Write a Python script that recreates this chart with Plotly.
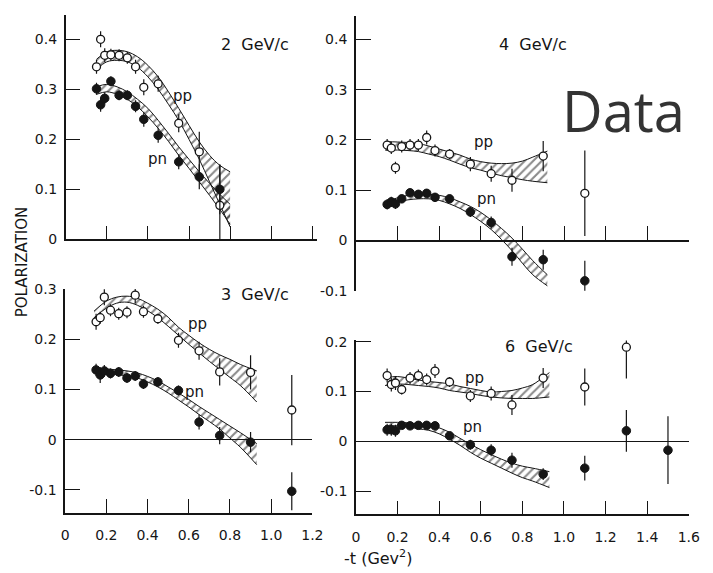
import plotly.graph_objects as go

W, H = 713, 573

# ---------------- data: -t values (GeV^2) ----------------
t_main = [0.15, 0.17, 0.19, 0.22, 0.26, 0.30, 0.34, 0.38, 0.45, 0.55, 0.65, 0.75]

# 2 GeV/c
p2_t = t_main
p2_pp = [0.345, 0.400, 0.368, 0.369, 0.368, 0.363, 0.345, 0.304, 0.311, 0.232, 0.175, 0.068]
p2_pp_err = [0.014, 0.016, 0.014, 0.012, 0.012, 0.012, 0.014, 0.016, 0.016, 0.018, 0.040, 0.080]
p2_pn = [0.301, 0.269, 0.282, 0.316, 0.288, 0.288, 0.266, 0.240, 0.208, 0.155, 0.125, 0.100]
p2_pn_err = [0.012, 0.014, 0.012, 0.010, 0.010, 0.010, 0.012, 0.015, 0.015, 0.015, 0.025, 0.050]

# 4 GeV/c
p4_t = t_main + [0.90, 1.10]
p4_pp = [0.190, 0.184, 0.145, 0.187, 0.190, 0.190, 0.205, 0.179, 0.172, 0.152, 0.133, 0.120, 0.168, 0.094]
p4_pp_err = [0.012, 0.012, 0.012, 0.012, 0.012, 0.012, 0.014, 0.012, 0.010, 0.014, 0.016, 0.023, 0.030, 0.085]
p4_pn = [0.072, 0.077, 0.073, 0.083, 0.095, 0.092, 0.094, 0.086, 0.083, 0.057, 0.036, -0.032, -0.038, -0.080]
p4_pn_err = [0.010, 0.010, 0.010, 0.008, 0.008, 0.008, 0.008, 0.008, 0.008, 0.010, 0.012, 0.018, 0.020, 0.040]

# 3 GeV/c
p3_t = t_main + [0.90, 1.10]
p3_pp = [0.235, 0.243, 0.284, 0.258, 0.251, 0.254, 0.288, 0.255, 0.241, 0.198, 0.177, 0.135, 0.134, 0.059]
p3_pp_err = [0.016, 0.012, 0.016, 0.012, 0.012, 0.012, 0.016, 0.012, 0.010, 0.015, 0.018, 0.027, 0.034, 0.070]
p3_pn = [0.139, 0.129, 0.137, 0.132, 0.135, 0.123, 0.127, 0.111, 0.115, 0.098, 0.035, 0.008, -0.005, -0.103]
p3_pn_err = [0.012, 0.016, 0.012, 0.010, 0.010, 0.010, 0.010, 0.010, 0.010, 0.010, 0.015, 0.017, 0.020, 0.038]

# 6 GeV/c
p6_pp_t = t_main + [0.90, 1.10, 1.30]
p6_pp = [0.132, 0.114, 0.117, 0.104, 0.127, 0.132, 0.124, 0.141, 0.119, 0.091, 0.096, 0.073, 0.127, 0.109, 0.189]
p6_pp_err = [0.014, 0.014, 0.014, 0.010, 0.012, 0.012, 0.012, 0.014, 0.010, 0.012, 0.014, 0.020, 0.020, 0.037, 0.063]
p6_pn_t = t_main + [0.90, 1.10, 1.30, 1.50]
p6_pn = [0.023, 0.023, 0.021, 0.032, 0.031, 0.032, 0.032, 0.031, 0.011, -0.007, -0.018, -0.038, -0.066, -0.054, 0.021, -0.018]
p6_pn_err = [0.012, 0.012, 0.012, 0.006, 0.006, 0.006, 0.006, 0.008, 0.006, 0.010, 0.012, 0.015, 0.012, 0.025, 0.042, 0.068]

# ---------------- theoretical bands (lower / upper edges) ----------------
b2_t = [0.15, 0.20, 0.25, 0.30, 0.35, 0.40, 0.45, 0.50, 0.55, 0.60, 0.65, 0.70, 0.75, 0.80]
b2_pp_hi = [0.360, 0.375, 0.378, 0.375, 0.365, 0.348, 0.325, 0.295, 0.262, 0.228, 0.195, 0.168, 0.148, 0.135]
b2_pp_lo = [0.340, 0.355, 0.358, 0.355, 0.344, 0.325, 0.300, 0.270, 0.238, 0.200, 0.160, 0.115, 0.070, 0.025]
b2_pn_hi = [0.305, 0.310, 0.305, 0.295, 0.280, 0.262, 0.238, 0.212, 0.185, 0.160, 0.135, 0.112, 0.090, 0.070]
b2_pn_lo = [0.290, 0.295, 0.290, 0.280, 0.265, 0.245, 0.222, 0.196, 0.168, 0.142, 0.115, 0.088, 0.060, 0.030]

b4_t = [0.14, 0.20, 0.25, 0.30, 0.35, 0.40, 0.45, 0.50, 0.55, 0.60, 0.65, 0.70, 0.75, 0.80, 0.85, 0.92]
b4_pp_hi = [0.197, 0.196, 0.195, 0.193, 0.188, 0.182, 0.176, 0.170, 0.162, 0.157, 0.154, 0.153, 0.154, 0.158, 0.166, 0.178]
b4_pp_lo = [0.180, 0.180, 0.179, 0.177, 0.172, 0.167, 0.160, 0.152, 0.145, 0.140, 0.134, 0.129, 0.125, 0.121, 0.118, 0.115]
b4_pn_hi = [0.077, 0.085, 0.090, 0.092, 0.092, 0.090, 0.085, 0.077, 0.068, 0.056, 0.041, 0.024, 0.005, -0.017, -0.040, -0.068]
b4_pn_lo = [0.070, 0.077, 0.081, 0.083, 0.083, 0.080, 0.073, 0.064, 0.052, 0.038, 0.022, 0.002, -0.020, -0.045, -0.068, -0.090]

b3_t = [0.14, 0.20, 0.25, 0.30, 0.35, 0.40, 0.45, 0.50, 0.55, 0.60, 0.65, 0.70, 0.75, 0.80, 0.85, 0.93]
b3_pp_hi = [0.256, 0.276, 0.284, 0.286, 0.282, 0.272, 0.260, 0.244, 0.224, 0.208, 0.193, 0.180, 0.169, 0.160, 0.150, 0.137]
b3_pp_lo = [0.243, 0.262, 0.272, 0.274, 0.268, 0.257, 0.243, 0.226, 0.208, 0.190, 0.173, 0.156, 0.140, 0.124, 0.108, 0.075]
b3_pn_hi = [0.143, 0.141, 0.139, 0.137, 0.133, 0.126, 0.117, 0.105, 0.093, 0.080, 0.066, 0.053, 0.040, 0.027, 0.014, -0.008]
b3_pn_lo = [0.134, 0.133, 0.130, 0.127, 0.123, 0.115, 0.105, 0.093, 0.079, 0.065, 0.050, 0.036, 0.021, 0.003, -0.015, -0.050]

b6_t = [0.14, 0.20, 0.25, 0.30, 0.35, 0.40, 0.45, 0.50, 0.55, 0.60, 0.65, 0.70, 0.75, 0.80, 0.85, 0.93]
b6_pp_hi = [0.128, 0.130, 0.127, 0.123, 0.120, 0.118, 0.115, 0.110, 0.106, 0.102, 0.099, 0.100, 0.102, 0.107, 0.114, 0.138]
b6_pp_lo = [0.112, 0.115, 0.114, 0.112, 0.110, 0.107, 0.102, 0.099, 0.096, 0.092, 0.089, 0.087, 0.086, 0.086, 0.086, 0.089]
b6_pn_hi = [0.038, 0.038, 0.037, 0.035, 0.033, 0.027, 0.018, 0.006, -0.006, -0.017, -0.027, -0.036, -0.044, -0.050, -0.054, -0.061]
b6_pn_lo = [0.031, 0.031, 0.029, 0.025, 0.022, 0.015, 0.004, -0.008, -0.022, -0.034, -0.044, -0.054, -0.064, -0.073, -0.080, -0.093]

# ---------------- panel geometry (pixels) ----------------
panels = {
    "2": dict(ax="", xpx=(63, 320), xr=(0, 1.224), ypx=(7, 238), yr=(0.0, 0.449),
              yt=[0, 0.1, 0.2, 0.3, 0.4], xlabels=False, xpos_zero=False, zeroline=False),
    "4": dict(ax="2", xpx=(359.5, 700), xr=(0, 1.602), ypx=(8, 291), yr=(-0.1, 0.447),
              yt=[-0.1, 0, 0.1, 0.2, 0.3, 0.4], xlabels=False, xpos_zero=True, zeroline=False),
    "3": dict(ax="3", xpx=(62.5, 315), xr=(0, 1.2), ypx=(289, 519), yr=(-0.1453, 0.3004),
              yt=[-0.1, 0, 0.1, 0.2, 0.3], xlabels=True, xpos_zero=False, zeroline=True),
    "6": dict(ax="4", xpx=(359.5, 699.5), xr=(0, 1.6), ypx=(342, 521), yr=(-0.147, 0.2025),
              yt=[-0.1, 0, 0.1, 0.2], xlabels=True, xpos_zero=False, zeroline=True),
}

INK = "#151515"
TICK_FONT = dict(family="DejaVu Sans", size=14, color=INK)


def fmt(v):
    if abs(v) < 1e-9:
        return "0"
    return f"{v:.1f}"


fig = go.Figure()
layout = {}

for key, p in panels.items():
    a = p["ax"]
    xdom = [p["xpx"][0] / W, p["xpx"][1] / W]
    ydom = [(H - p["ypx"][1]) / H, (H - p["ypx"][0]) / H]
    xt = [round(0.2 * i, 1) for i in range(0, 9) if 0.2 * i <= p["xr"][1] + 1e-6]
    xaxis = dict(domain=xdom, range=list(p["xr"]), anchor="y" + a, showgrid=False,
                 zeroline=False, showline=True, linecolor=INK, linewidth=1.5,
                 ticks="inside", ticklen=14, tickwidth=1.4, tickcolor=INK,
                 tickvals=xt, ticktext=[fmt(v) for v in xt],
                 showticklabels=p["xlabels"], tickfont=TICK_FONT, ticklabelstandoff=9)
    if p["xpos_zero"]:
        y0, y1 = p["yr"]
        pos = ydom[0] + (0 - y0) / (y1 - y0) * (ydom[1] - ydom[0])
        xaxis.update(anchor="free", position=pos)
    yaxis = dict(domain=ydom, range=list(p["yr"]), anchor="x" + a, showgrid=False,
                 zeroline=p["zeroline"], zerolinecolor=INK, zerolinewidth=1.2,
                 showline=True, linecolor=INK, linewidth=1.5,
                 ticks="inside", ticklen=15, tickwidth=1.4, tickcolor=INK,
                 tickvals=p["yt"], ticktext=[fmt(v) for v in p["yt"]],
                 tickfont=TICK_FONT, ticklabelstandoff=4)
    layout["xaxis" + a] = xaxis
    layout["yaxis" + a] = yaxis

sets = [
    ("", (b2_t, b2_pp_lo, b2_pp_hi), (b2_t, b2_pn_lo, b2_pn_hi),
     (p2_t, p2_pp, p2_pp_err), (p2_t, p2_pn, p2_pn_err)),
    ("2", (b4_t, b4_pp_lo, b4_pp_hi), (b4_t, b4_pn_lo, b4_pn_hi),
     (p4_t, p4_pp, p4_pp_err), (p4_t, p4_pn, p4_pn_err)),
    ("3", (b3_t, b3_pp_lo, b3_pp_hi), (b3_t, b3_pn_lo, b3_pn_hi),
     (p3_t, p3_pp, p3_pp_err), (p3_t, p3_pn, p3_pn_err)),
    ("4", (b6_t, b6_pp_lo, b6_pp_hi), (b6_t, b6_pn_lo, b6_pn_hi),
     (p6_pp_t, p6_pp, p6_pp_err), (p6_pn_t, p6_pn, p6_pn_err)),
]

for a, band_pp, band_pn, pts_pp, pts_pn in sets:
    xa, ya = "x" + a, "y" + a
    for bt, lo, hi in (band_pp, band_pn):
        fig.add_trace(go.Scatter(x=bt, y=lo, mode="lines", xaxis=xa, yaxis=ya,
                                 line=dict(color=INK, width=1), line_shape="spline",
                                 hoverinfo="skip", showlegend=False))
        fig.add_trace(go.Scatter(x=bt, y=hi, mode="lines", xaxis=xa, yaxis=ya,
                                 line=dict(color=INK, width=1), line_shape="spline",
                                 fill="tonexty", fillcolor="rgba(255,255,255,0)",
                                 fillpattern=dict(shape="/", fgcolor=INK,
                                                  bgcolor="rgba(255,255,255,0)",
                                                  size=6, solidity=0.35),
                                 hoverinfo="skip", showlegend=False))
    # proton-proton: open circles
    fig.add_trace(go.Scatter(x=pts_pp[0], y=pts_pp[1], mode="markers", xaxis=xa, yaxis=ya,
                             marker=dict(symbol="circle", size=8, color="white",
                                         line=dict(color=INK, width=1.3)),
                             error_y=dict(type="data", array=pts_pp[2], width=0,
                                          thickness=1.2, color=INK),
                             cliponaxis=False, showlegend=False))
    # proton-neutron: filled circles
    fig.add_trace(go.Scatter(x=pts_pn[0], y=pts_pn[1], mode="markers", xaxis=xa, yaxis=ya,
                             marker=dict(symbol="circle", size=8.5, color=INK,
                                         line=dict(color=INK, width=1)),
                             error_y=dict(type="data", array=pts_pn[2], width=0,
                                          thickness=1.2, color=INK),
                             cliponaxis=False, showlegend=False))

ann = []
LAB = dict(family="DejaVu Sans", size=15, color=INK)
titles = [("", 0.92, 0.39, "2  GeV/c"), ("2", 0.85, 0.39, "4  GeV/c"),
          ("3", 0.92, 0.29, "3  GeV/c"), ("4", 0.88, 0.19, "6  GeV/c")]
for a, tx, ty, txt in titles:
    ann.append(dict(x=tx, y=ty, xref="x" + a, yref="y" + a, text=txt, showarrow=False,
                    xanchor="center", yanchor="middle",
                    font=dict(family="DejaVu Sans", size=16, color=INK)))

tags = [("", 0.567, 0.287, "pp"), ("", 0.448, 0.161, "pn"),
        ("2", 0.614, 0.196, "pp"), ("2", 0.628, 0.082, "pn"),
        ("3", 0.64, 0.23, "pp"), ("3", 0.63, 0.095, "pn"),
        ("4", 0.572, 0.128, "pp"), ("4", 0.562, 0.029, "pn")]
for a, tx, ty, txt in tags:
    ann.append(dict(x=tx, y=ty, xref="x" + a, yref="y" + a, text=txt, showarrow=False,
                    xanchor="center", yanchor="middle", font=LAB))

ann.append(dict(x=18 / W, y=(H - 261) / H, xref="paper", yref="paper", text="POLARIZATION",
                textangle=-90, showarrow=False, xanchor="center", yanchor="middle",
                font=dict(family="DejaVu Sans", size=15, color=INK)))
ann.append(dict(x=382 / W, y=(H - 565) / H, xref="paper", yref="paper",
                text="-t (Gev<sup>2</sup>)", showarrow=False,
                xanchor="center", yanchor="middle",
                font=dict(family="DejaVu Sans", size=16, color=INK)))
ann.append(dict(x=633 / W, y=(H - 105) / H, xref="paper", yref="paper", text="Data",
                showarrow=False, xanchor="center", yanchor="middle",
                font=dict(family="Open Sans", size=56, color="#333333")))

fig.update_layout(width=W, height=H, margin=dict(l=0, r=0, t=0, b=0),
                  paper_bgcolor="white", plot_bgcolor="white",
                  annotations=ann, **layout)

fig.write_html("out.html")
